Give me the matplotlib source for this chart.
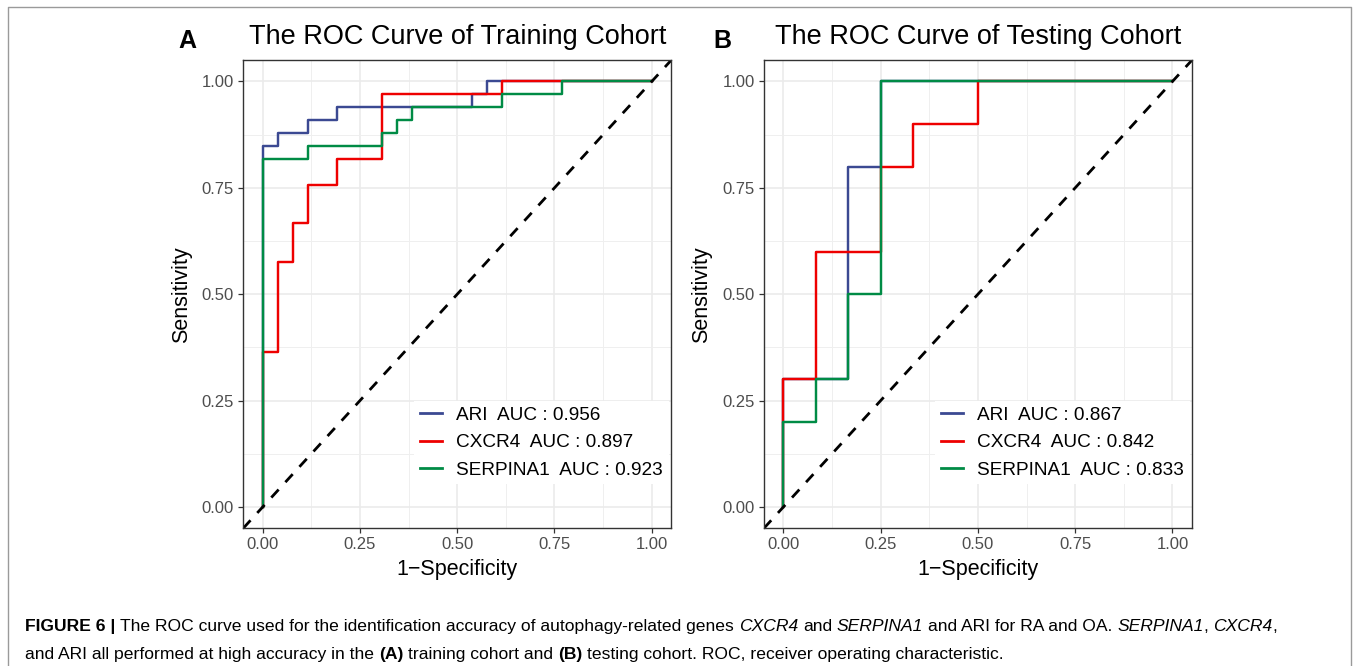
import matplotlib
matplotlib.use('Agg')
import matplotlib.pyplot as plt
from matplotlib.lines import Line2D

plt.rcParams['font.family'] = ['Liberation Sans', 'DejaVu Sans']

W, H = 1355, 666

# ROC corner points as counts (false positives, true positives)
train_neg, train_pos = 26, 33
train_ari_fp = [0, 0, 1, 1, 3, 3, 5, 5, 14, 14, 15, 15, 26]
train_ari_tp = [0, 28, 28, 29, 29, 30, 30, 31, 31, 32, 32, 33, 33]
train_cxcr4_fp = [0, 0, 1, 1, 2, 2, 3, 3, 5, 5, 8, 8, 16, 16, 26]
train_cxcr4_tp = [0, 12, 12, 19, 19, 22, 22, 25, 25, 27, 27, 32, 32, 33, 33]
train_serp_fp = [0, 0, 3, 3, 8, 8, 9, 9, 10, 10, 16, 16, 20, 20, 26]
train_serp_tp = [0, 27, 27, 28, 28, 29, 29, 30, 30, 31, 31, 32, 32, 33, 33]

test_neg, test_pos = 12, 10
test_ari_fp = [0, 0, 2, 2, 3, 3, 12]
test_ari_tp = [0, 3, 3, 8, 8, 10, 10]
test_cxcr4_fp = [0, 0, 1, 1, 3, 3, 4, 4, 6, 6, 12]
test_cxcr4_tp = [0, 3, 3, 6, 6, 8, 8, 9, 9, 10, 10]
test_serp_fp = [0, 0, 1, 1, 2, 2, 3, 3, 12]
test_serp_tp = [0, 2, 2, 3, 3, 5, 5, 10, 10]

genes = ['ARI', 'CXCR4', 'SERPINA1']
train_auc = [0.956, 0.897, 0.923]
test_auc = [0.867, 0.842, 0.833]
colors = ['#3B4992', '#EE0000', '#008B45']
ticks = [0, 0.25, 0.5, 0.75, 1.0]
tick_labels = ['0.00', '0.25', '0.50', '0.75', '1.00']
minor_ticks = [0.125, 0.375, 0.625, 0.875]

fig = plt.figure(figsize=(W / 100, H / 100), dpi=100)
axA = fig.add_axes([243.2 / W, (H - 528.3) / H, 428 / W, 468.1 / H])
axB = fig.add_axes([763.9 / W, (H - 528.3) / H, 428 / W, 468.1 / H])


def roc_panel(ax, fps, tps, n_neg, n_pos, aucs, title, letter, letter_x):
    ax.set_xlim(-0.05, 1.05)
    ax.set_ylim(-0.05, 1.05)
    ax.set_xticks(ticks, tick_labels)
    ax.set_yticks(ticks, tick_labels)
    ax.set_xticks(minor_ticks, minor=True)
    ax.set_yticks(minor_ticks, minor=True)
    ax.grid(which='major', color='#EBEBEB', lw=1.2)
    ax.grid(which='minor', color='#EFEFEF', lw=0.7)
    ax.set_axisbelow(True)
    ax.tick_params(which='minor', length=0)
    ax.tick_params(which='major', length=3.6, width=0.9, color='#333333',
                   labelcolor='#4D4D4D', labelsize=12, pad=3)
    for sp in ax.spines.values():
        sp.set_color('#333333')
        sp.set_linewidth(1.0)

    for fp, tp, gene, auc, c in zip(fps, tps, genes, aucs, colors):
        x = [v / n_neg for v in fp]
        y = [v / n_pos for v in tp]
        ax.plot(x, y, color=c, lw=1.75, label=f'{gene}  AUC : {auc:.3f}')
    ax.axline((0, 0), (1, 1), color='black', lw=2, linestyle=(0, (3.9, 3.6)))

    leg = ax.legend(loc='center left', bbox_to_anchor=(0.40, 0.183), fontsize=13.7,
                    handlelength=1.17, handletextpad=0.73, labelspacing=0.53,
                    borderpad=0.3, borderaxespad=0, fancybox=False, framealpha=1)
    leg.get_frame().set_edgecolor('none')
    for h in leg.get_lines():
        h.set_linewidth(2.0)

    ax.set_title(title, fontsize=19.5, pad=11.5)
    ax.set_xlabel('1\u2212Specificity', fontsize=15.5)
    ax.set_ylabel('Sensitivity', fontsize=15.5)
    ax.xaxis.set_label_coords(0.5, -0.087)
    ax.xaxis.label.set_verticalalignment('center')
    ax.yaxis.set_label_coords(-0.145, 0.5)
    ax.yaxis.label.set_verticalalignment('center')

    fig.text(letter_x / W, 1 - 41.5 / H, letter, fontsize=18, fontweight='bold',
             ha='center', va='center')


roc_panel(axA, [train_ari_fp, train_cxcr4_fp, train_serp_fp],
          [train_ari_tp, train_cxcr4_tp, train_serp_tp], train_neg, train_pos,
          train_auc, 'The ROC Curve of Training Cohort', 'A', 187)
roc_panel(axB, [test_ari_fp, test_cxcr4_fp, test_serp_fp],
          [test_ari_tp, test_cxcr4_tp, test_serp_tp], test_neg, test_pos,
          test_auc, 'The ROC Curve of Testing Cohort', 'B', 722)

# outer frame of the figure page
fig.add_artist(Line2D([8 / W, 8 / W, 1351 / W, 1351 / W], [0, 1 - 7 / H, 1 - 7 / H, 0],
                      color='#9A9A9A', lw=1.0, transform=fig.transFigure))

# caption with mixed styles
cap1 = [('FIGURE 6 |', 'bold'),
        (' The ROC curve used for the identification accuracy of autophagy-related genes ', 'normal'),
        ('CXCR4', 'italic'), (' and ', 'normal'), ('SERPINA1', 'italic'),
        (' and ARI for RA and OA. ', 'normal'), ('SERPINA1', 'italic'), (', ', 'normal'),
        ('CXCR4', 'italic'), (',', 'normal')]
cap2 = [('and ARI all performed at high accuracy in the ', 'normal'), ('(A)', 'bold'),
        (' training cohort and ', 'normal'), ('(B)', 'bold'),
        (' testing cohort. ROC, receiver operating characteristic.', 'normal')]

renderer = fig.canvas.get_renderer()


def write_line(runs, x0, y, size):
    x = x0
    made = []
    space = 0.278 * size * 100 / 72
    for s, style in runs:
        core = s.strip(' ')
        x += (len(s) - len(s.lstrip(' '))) * space
        t = fig.text(x / W, 1 - y / H, core, fontsize=size, va='baseline', ha='left',
                     fontweight='bold' if style == 'bold' else 'normal',
                     fontstyle='italic' if style == 'italic' else 'normal')
        x = t.get_window_extent(renderer).x1
        x += (len(s) - len(s.rstrip(' '))) * space
        made.append(t)
    return x, made


end, tmp = write_line(cap1, 25, 631, 10)
for t in tmp:
    t.remove()
cap_size = 10 * (1280 - 25) / (end - 25)
write_line(cap1, 25, 631, cap_size)
write_line(cap2, 25, 659, cap_size)

fig.savefig('out.png', dpi=100)
